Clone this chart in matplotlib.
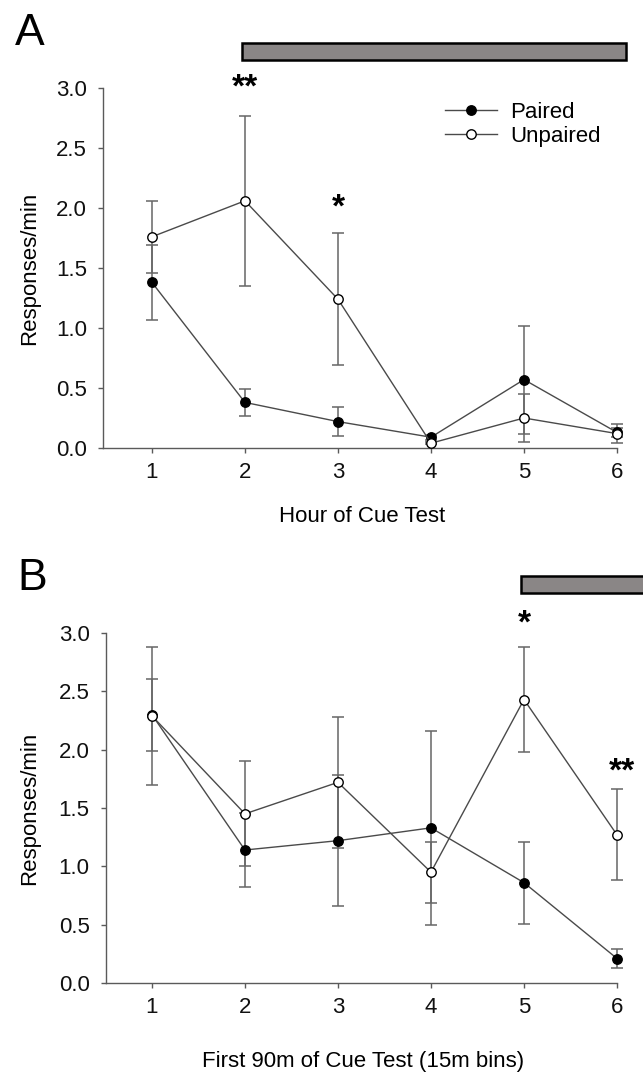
import matplotlib
matplotlib.use('Agg')
import matplotlib.pyplot as plt
from matplotlib.patches import Rectangle

plt.rcParams['font.family'] = ['Liberation Sans', 'DejaVu Sans']

# panel A: hours of cue test
hours = [1, 2, 3, 4, 5, 6]
a_paired = [1.38, 0.38, 0.22, 0.09, 0.57, 0.13]
a_paired_err = [0.31, 0.11, 0.12, 0.02, 0.45, 0.04]
a_unpaired = [1.76, 2.06, 1.24, 0.04, 0.25, 0.12]
a_unpaired_err = [0.30, 0.71, 0.55, 0.01, 0.20, 0.08]
a_stars = [(2, 3.0, '**'), (3, 2.0, '*')]

# panel B: first 90 min in 15 min bins
bins = [1, 2, 3, 4, 5, 6]
b_paired = [2.30, 1.14, 1.22, 1.33, 0.86, 0.21]
b_paired_err = [0.31, 0.32, 0.56, 0.83, 0.35, 0.08]
b_unpaired = [2.29, 1.45, 1.72, 0.95, 2.43, 1.27]
b_unpaired_err = [0.59, 0.45, 0.56, 0.26, 0.45, 0.39]
b_stars = [(5, 3.08, '*'), (6.05, 1.81, '**')]

yticks = [0.0, 0.5, 1.0, 1.5, 2.0, 2.5, 3.0]

line_c = '#4a4a4a'
err_c = '#666666'
axis_c = '#5a5a5a'
fs = 16


def panel(ax, x, paired, perr, unpaired, uerr, stars, xleft, bar):
    for yv, ev in [(paired, perr), (unpaired, uerr)]:
        eb = ax.errorbar(x, yv, yerr=ev, fmt='none', ecolor=err_c, elinewidth=1.1,
                         capsize=4.3, capthick=1.1, zorder=2)
        for art in eb.lines[1] + eb.lines[2]:
            art.set_clip_on(False)
    lp, = ax.plot(x, paired, '-o', color=line_c, lw=1.0, ms=6.8, mfc='black',
                  mec='black', mew=1, zorder=3, label='Paired', clip_on=False)
    lu, = ax.plot(x, unpaired, '-o', color=line_c, lw=1.0, ms=6.8, mfc='white',
                  mec='black', mew=1, zorder=4, label='Unpaired', clip_on=False)
    ax.set_xlim(xleft, 6)
    ax.set_ylim(0, 3)
    ax.set_xticks(x)
    ax.set_yticks(yticks)
    ax.set_yticklabels(['%.1f' % v for v in yticks])
    for s in ['top', 'right']:
        ax.spines[s].set_visible(False)
    for s in ['left', 'bottom']:
        ax.spines[s].set_color(axis_c)
        ax.spines[s].set_linewidth(1)
    ax.tick_params(axis='both', direction='out', length=3.6, width=1, color=axis_c,
                   labelsize=fs, labelcolor='#111111')
    ax.tick_params(axis='y', pad=8)
    ax.tick_params(axis='x', pad=6.5)
    for sx, sy, st in stars:
        ax.text(sx, sy, st, ha='center', va='center', fontsize=24,
                fontweight='bold', color='black', clip_on=False)
    ax.add_patch(Rectangle((bar[0], bar[2]), bar[1] - bar[0], bar[3] - bar[2],
                           facecolor='#8a8686', edgecolor='black', lw=1.8,
                           clip_on=False, zorder=5))
    return lp, lu


fig = plt.figure(figsize=(6.43, 10.77), dpi=100)
W, H = 643, 1077

ax1 = fig.add_axes([103 / W, 1 - 448 / H, 514 / W, 360 / H])
lp, lu = panel(ax1, hours, a_paired, a_paired_err, a_unpaired, a_unpaired_err,
               a_stars, 0.474, (1.966, 6.10, 3.23, 3.375))

ax2 = fig.add_axes([105.7 / W, 1 - 983 / H, 511.3 / W, 350 / H])
panel(ax2, bins, b_paired, b_paired_err, b_unpaired, b_unpaired_err,
      b_stars, 0.503, (4.97, 6.6, 3.34, 3.49))

fig.legend([lp, lu], ['Paired', 'Unpaired'], loc='center left',
           bbox_to_anchor=(445 / W, 1 - 124.5 / H), frameon=False, fontsize=fs,
           handlelength=2.34, handletextpad=0.6, labelspacing=0.15,
           borderpad=0, borderaxespad=0)

fig.text(30 / W, 1 - 268 / H, 'Responses/min', rotation=90, ha='center',
         va='center', fontsize=fs)
fig.text(30 / W, 1 - 808 / H, 'Responses/min', rotation=90, ha='center',
         va='center', fontsize=fs)
fig.text(362 / W, 1 - 517 / H, 'Hour of Cue Test', ha='center', va='center',
         fontsize=fs)
fig.text(363 / W, 1 - 1062 / H, 'First 90m of Cue Test (15m bins)', ha='center',
         va='center', fontsize=fs)
fig.text(15 / W, 1 - 45 / H, 'A', ha='left', va='baseline', fontsize=32)
fig.text(17 / W, 1 - 590 / H, 'B', ha='left', va='baseline', fontsize=32)

fig.savefig('out.png', dpi=100)
